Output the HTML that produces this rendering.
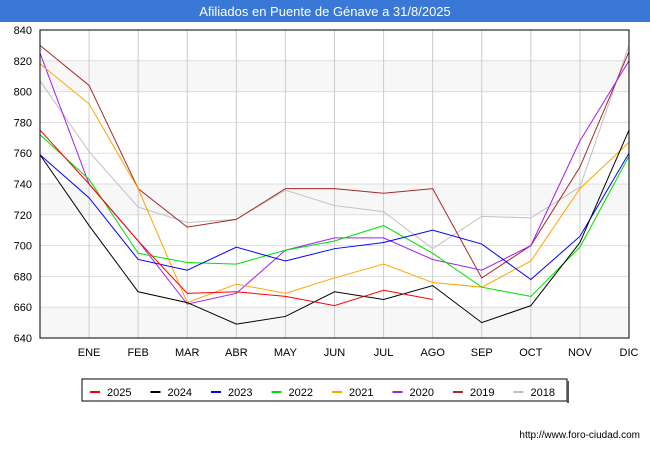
<!DOCTYPE html>
<html><head><meta charset="utf-8"><style>
body{margin:0;background:#fff;font-family:"Liberation Sans",sans-serif}
</style></head><body>
<svg width="650" height="450" xmlns="http://www.w3.org/2000/svg" style="font-family:'Liberation Sans',sans-serif">
<rect x="0" y="0" width="650" height="22" fill="#3a78d8"/>
<text x="325" y="16" text-anchor="middle" fill="#fff" font-size="13">Afiliados en Puente de Génave a 31/8/2025</text>
<g id="grid"></g><g id="series"></g><g id="axes"></g>
<rect x="40" y="30" width="589" height="308" fill="none" stroke="#000" stroke-width="1"/>
<g id="legend"></g>
<text x="640" y="438" text-anchor="end" font-size="10" fill="#000">http://www.foro-ciudad.com</text>
</svg>
<script>
const months=["","ENE","FEB","MAR","ABR","MAY","JUN","JUL","AGO","SEP","OCT","NOV","DIC"];
const yTicks=[640,660,680,700,720,740,760,780,800,820,840];
const seriesNames=["2025","2024","2023","2022","2021","2020","2019","2018"];
const seriesColors=["#ff0000","#000000","#0000ff","#00e000","#ffa500","#a020f0","#a52a2a","#c0c0c0"];
const s2025=[775,740,703,669,670,667,661,671,665];
const s2024=[759,713,670,663,649,654,670,665,674,650,661,702,775];
const s2023=[759,731,691,684,699,690,698,702,710,701,678,706,760];
const s2022=[772,743,695,689,688,697,703,713,695,673,667,699,758];
const s2021=[818,792,737,663,675,669,679,688,676,673,690,737,767];
const s2020=[825,740,703,662,669,697,705,705,691,684,700,768,820];
const s2019=[830,804,737,712,717,737,737,734,737,679,700,751,826];
const s2018=[807,761,725,715,717,736,726,722,698,719,718,738,830];
const allSeries=[s2025,s2024,s2023,s2022,s2021,s2020,s2019,s2018];
const NS="http://www.w3.org/2000/svg";
const X0=40,X1=629,Y0=338,Y1=30;
const xs=i=>X0+i*(X1-X0)/(months.length-1);
const ys=v=>Y0-(v-640)/(840-640)*(Y0-Y1);
function mk(t,a,p){const e=document.createElementNS(NS,t);for(const k in a)e.setAttribute(k,a[k]);p.appendChild(e);return e;}
const grid=document.getElementById('grid'),axes=document.getElementById('axes'),ser=document.getElementById('series'),leg=document.getElementById('legend');
for(let i=0;i<yTicks.length-1;i++){
 if(i%2===0){const b=mk('rect',{x:X0,y:ys(yTicks[i+1]),width:X1-X0,height:ys(yTicks[i])-ys(yTicks[i+1]),fill:(i/2)%2===0?'#f7f7f7':'#ffffff'},grid);
 
 }
}
yTicks.forEach(v=>{
 const l=mk('line',{x1:X0,x2:X1,y1:ys(v),y2:ys(v),stroke:'#dddddd'},grid);
 
 
 const t=mk('text',{x:X0-8,y:ys(v)+4,'text-anchor':'end','font-size':'11',fill:'#000'},axes);t.textContent=v;
 
 
});
months.forEach((m,i)=>{
 const l=mk('line',{x1:xs(i),x2:xs(i),y1:Y1,y2:Y0,stroke:'#cccccc'},grid);
 
 
 if(m){const t=mk('text',{x:xs(i),y:356,'text-anchor':'middle','font-size':'11',fill:'#000'},axes);t.textContent=m;
 
 }
});
allSeries.slice().reverse().forEach((s,ri)=>{
 const k=allSeries.length-1-ri;
 const p=mk('polyline',{points:s.map((v,i)=>xs(i)+','+ys(v)).join(' '),fill:'none',stroke:seriesColors[k],'stroke-width':'1'},ser);
 
 
});
const lb=mk('rect',{x:82,y:379,width:485,height:22,fill:'#fff',stroke:'#000'},leg);


mk('rect',{x:567,y:381,width:2,height:22,fill:'#555'},leg);
seriesNames.forEach((n,i)=>{
 const x=90+i*60.5;
 const g=mk('g',{},leg);
 
 
 mk('line',{x1:x,x2:x+10,y1:392,y2:392,stroke:seriesColors[i],'stroke-width':'2'},g);
 const t=mk('text',{x:x+17,y:396,'font-size':'11',fill:'#000'},g);t.textContent=n;
});
</script>
</body></html>
